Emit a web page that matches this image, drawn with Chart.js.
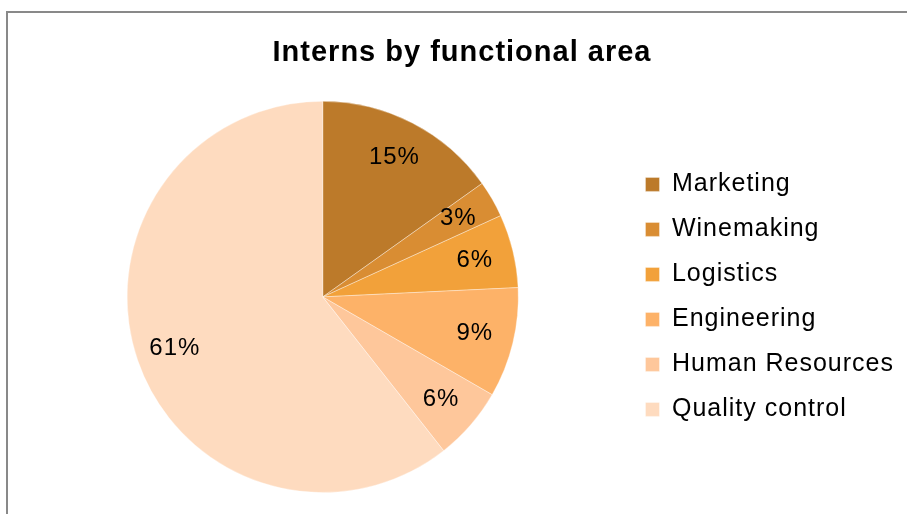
<!DOCTYPE html>
<html>
<head>
<meta charset="utf-8">
<script src="https://cdn.jsdelivr.net/npm/chart.js@4/dist/chart.umd.min.js"></script>
<style>
    html, body { margin: 0; padding: 0; background: #fff; overflow: hidden; }
    body { width: 907px; height: 514px; position: relative; }
    .frame {
        position: absolute;
        left: 6px;
        top: 11px;
        width: 960px;
        height: 560px;
        border-left: 2px solid #898989;
        border-top: 2px solid #898989;
    }
    .chart-box {
        position: absolute;
        left: 8px;
        top: 13px;
        width: 940px;
        height: 501px;
    }
</style>
</head>
<body>
<div class="frame"></div>
<div class="chart-box"><canvas id="internsChart"></canvas></div>
<script>
// Chart data
const areas = ['Marketing', 'Winemaking', 'Logistics', 'Engineering', 'Human Resources', 'Quality control'];
const internCounts = [5, 1, 2, 3, 2, 20];
const sliceColors = ['#bc7a2a', '#d98d33', '#f2a13a', '#fdb268', '#fec79b', '#fedbbf'];

const fontFamily = '"Liberation Sans", Arial, sans-serif';

// Slightly wider text, like the original rendering
const textSpacing = {
    id: 'textSpacing',
    beforeLayout(chart) { chart.ctx.letterSpacing = '1px'; },
    beforeDraw(chart) { chart.ctx.letterSpacing = '1px'; }
};

// Percent labels drawn inside each slice
const percentLabels = {
    id: 'percentLabels',
    afterDatasetsDraw(chart) {
        const ctx = chart.ctx;
        const data = chart.data.datasets[0].data;
        const total = data.reduce((a, b) => a + b, 0);
        ctx.save();
        ctx.font = '24px ' + fontFamily;
        ctx.fillStyle = '#000';
        ctx.textAlign = 'center';
        ctx.textBaseline = 'middle';
        chart.getDatasetMeta(0).data.forEach((arc, i) => {
            const mid = (arc.startAngle + arc.endAngle) / 2;
            const r = arc.outerRadius * 0.8;
            const x = arc.x + Math.cos(mid) * r;
            const y = arc.y + Math.sin(mid) * r;
            ctx.fillText(Math.round(data[i] / total * 100) + '%', x, y);
        });
        ctx.restore();
    }
};

const ctx = document.getElementById('internsChart').getContext('2d');
new Chart(ctx, {
    type: 'pie',
    data: {
        labels: areas,
        datasets: [{
            data: internCounts,
            backgroundColor: sliceColors,
            borderColor: 'rgba(255,255,255,0.35)',
            borderWidth: 1
        }]
    },
    options: {
        responsive: true,
        maintainAspectRatio: false,
        animation: false,
        layout: {
            padding: { left: 12, right: 44, top: 0, bottom: 21 }
        },
        plugins: {
            title: {
                display: true,
                text: 'Interns by functional area',
                color: '#000',
                font: { family: fontFamily, size: 29, weight: 'bold', lineHeight: 1.2 },
                padding: { top: 23, bottom: 30 }
            },
            legend: {
                position: 'right',
                fullSize: false,
                labels: {
                    color: '#000',
                    font: { family: fontFamily, size: 25 },
                    boxWidth: 14,
                    boxHeight: 14,
                    padding: 20
                }
            },
            tooltip: { enabled: false }
        }
    },
    plugins: [textSpacing, percentLabels]
});
</script>
</body>
</html>
